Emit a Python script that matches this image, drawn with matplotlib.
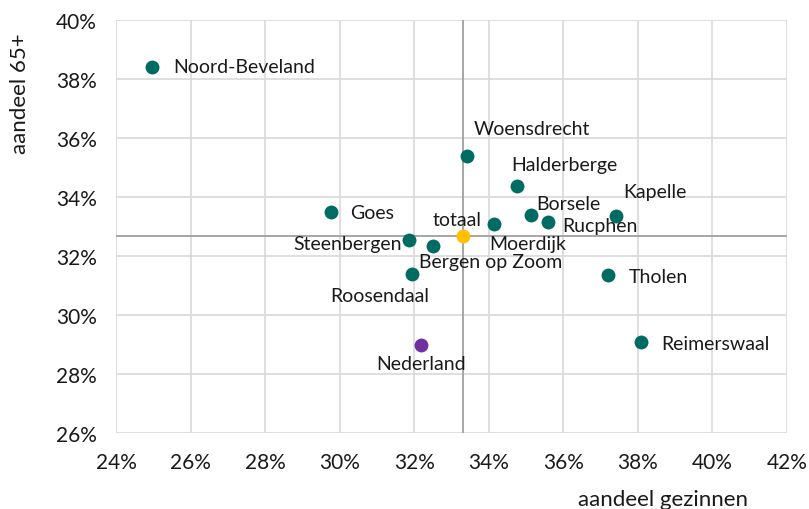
import matplotlib
matplotlib.use("Agg")
import matplotlib.pyplot as plt
from matplotlib.ticker import FuncFormatter

# data: aandeel gezinnen (x, %) vs aandeel 65+ (y, %)
gemeenten = ["Noord-Beveland", "Woensdrecht", "Halderberge", "Kapelle", "Goes",
             "Borsele", "Rucphen", "Moerdijk", "Steenbergen", "Bergen op Zoom",
             "Roosendaal", "Tholen", "Reimerswaal"]
gezinnen = [24.97, 33.42, 34.76, 37.41, 29.77, 35.13, 35.60, 34.15, 31.86, 32.51,
            31.94, 37.19, 38.08]
ouderen = [38.41, 35.39, 34.36, 33.37, 33.49, 33.39, 33.16, 33.08, 32.53, 32.33,
           31.38, 31.36, 29.08]

totaal_x, totaal_y = 33.30, 32.67
nederland_x, nederland_y = 32.18, 28.98

# label offsets in points (dx, dy, ha, va)
offsets = {
    "Noord-Beveland": (15, 0, "left", "center"),
    "Woensdrecht": (5, 20, "left", "center"),
    "Halderberge": (-4, 16, "left", "center"),
    "Kapelle": (5, 17, "left", "center"),
    "Goes": (14, 0, "left", "center"),
    "Borsele": (4, 8, "left", "center"),
    "Rucphen": (10, -3, "left", "center"),
    "Moerdijk": (-4, -14, "left", "center"),
    "Steenbergen": (-5, -2, "right", "center"),
    "Bergen op Zoom": (-10, -11, "left", "center"),
    "Roosendaal": (-23, -15, "center", "center"),
    "Tholen": (15, -1, "left", "center"),
    "Reimerswaal": (15, -1, "left", "center"),
}

TEAL = "#006b63"
TXT = "#1a1a1a"
plt.rcParams["font.family"] = ["Lato", "DejaVu Sans"]

fig = plt.figure(figsize=(8.09, 5.10), dpi=100)
ax = fig.add_axes([0.1434, 0.149, 0.8294, 0.8098])

ax.set_xlim(24, 42)
ax.set_ylim(26, 40)
ax.set_xticks(range(24, 43, 2))
ax.set_yticks(range(26, 41, 2))
pct = FuncFormatter(lambda v, _: f"{v:.0f}%")
ax.xaxis.set_major_formatter(pct)
ax.yaxis.set_major_formatter(pct)
ax.grid(True, color="#d9d9d9", lw=1.2)
ax.set_axisbelow(True)
for s in ax.spines.values():
    s.set_visible(False)
ax.tick_params(length=0, labelsize=15, colors=TXT)
ax.tick_params(axis="x", pad=14)
ax.tick_params(axis="y", pad=14)

ax.axvline(totaal_x, color="#a6a6a6", lw=1.4, zorder=1)
ax.axhline(totaal_y, color="#a6a6a6", lw=1.4, zorder=1)

ax.scatter(gezinnen, ouderen, s=100, color=TEAL, zorder=3, linewidths=0)
ax.scatter([totaal_x], [totaal_y], s=100, color="#ffc000", zorder=3, linewidths=0)
ax.scatter([nederland_x], [nederland_y], s=100, color="#7030a0", zorder=3, linewidths=0)

for name, x, y in zip(gemeenten, gezinnen, ouderen):
    dx, dy, ha, va = offsets[name]
    ax.annotate(name, (x, y), xytext=(dx, dy), textcoords="offset points",
                ha=ha, va=va, fontsize=14, color=TXT)
ax.annotate("totaal", (totaal_x, totaal_y), xytext=(-4, 12), textcoords="offset points",
            ha="center", va="center", fontsize=14, color=TXT)
ax.annotate("Nederland", (nederland_x, nederland_y), xytext=(0, -13), textcoords="offset points",
            ha="center", va="center", fontsize=14, color=TXT)

ax.set_xlabel("aandeel gezinnen", fontsize=16, color=TXT, ha="right", va="center")
ax.xaxis.set_label_coords(0.942, -0.16)
ax.set_ylabel("aandeel 65+", fontsize=16, color=TXT, ha="right", va="center")
ax.yaxis.set_label_coords(-0.143, 0.97)

fig.savefig("out.png", dpi=100)
